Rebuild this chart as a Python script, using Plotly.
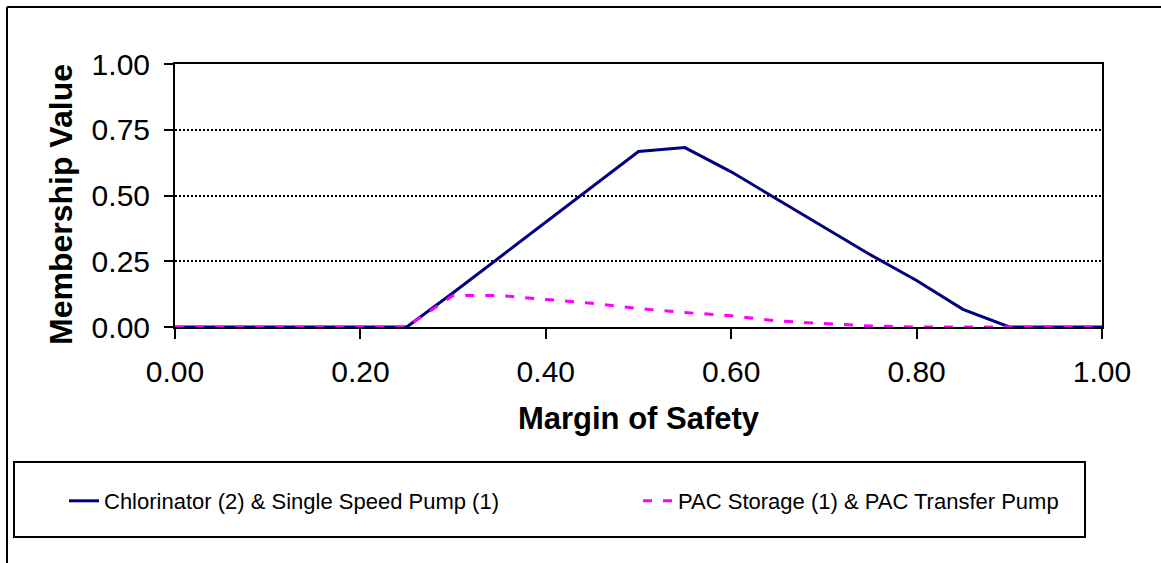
import plotly.graph_objects as go

# ---- data ----
margin_of_safety = [0.00, 0.05, 0.10, 0.15, 0.20, 0.25, 0.30, 0.35, 0.40, 0.45, 0.50,
                    0.55, 0.60, 0.65, 0.70, 0.75, 0.80, 0.85, 0.90, 0.95, 1.00]
chlorinator = [0, 0, 0, 0, 0, 0, 0.13, 0.265, 0.40, 0.535, 0.667,
               0.682, 0.59, 0.485, 0.38, 0.275, 0.177, 0.067, 0, 0, 0]
pac_storage = [0, 0, 0, 0, 0, 0, 0.12, 0.12, 0.105, 0.09, 0.07,
               0.055, 0.043, 0.023, 0.013, 0.004, 0, 0, 0, 0, 0]
series_names = ["Chlorinator (2) & Single Speed Pump (1)",
                "PAC Storage (1) & PAC Transfer Pump"]
x_ticks = [0.0, 0.2, 0.4, 0.6, 0.8, 1.0]
y_ticks = [0.0, 0.25, 0.5, 0.75, 1.0]

# ---- layout geometry (pixels) ----
W, H = 1161, 563
L, R, T, B = 175, 1102, 64, 327


def px2x(px):
    return (px - L) / (R - L)


def py2y(py):
    return (B - py) / (B - T)


FONT = "Arial, Liberation Sans, sans-serif"

fig = go.Figure()
fig.add_trace(go.Scatter(
    x=margin_of_safety, y=chlorinator, mode="lines", name=series_names[0],
    line=dict(color="#000080", width=3), legend="legend"))
fig.add_trace(go.Scatter(
    x=margin_of_safety, y=pac_storage, mode="lines", name=series_names[1],
    line=dict(color="#FF00FF", width=3, dash="9px,11px"), legend="legend2"))

shapes = [
    # outer chart frame (only top and left edges visible in the crop)
    dict(type="line", xref="paper", yref="paper", x0=px2x(7), x1=px2x(W + 20),
         y0=py2y(7), y1=py2y(7), line=dict(color="black", width=2)),
    dict(type="line", xref="paper", yref="paper", x0=px2x(7), x1=px2x(7),
         y0=py2y(7), y1=py2y(H + 20), line=dict(color="black", width=2)),
    # legend box
    dict(type="rect", xref="paper", yref="paper", x0=px2x(14), x1=px2x(1085),
         y0=py2y(537), y1=py2y(462), line=dict(color="black", width=2)),
]

fig.update_layout(
    width=W, height=H,
    margin=dict(l=L, r=W - R, t=T, b=H - B, pad=0),
    paper_bgcolor="white", plot_bgcolor="white",
    font=dict(family=FONT, color="black"),
    shapes=shapes,
    showlegend=True,
    legend=dict(x=px2x(64), y=py2y(501), xanchor="left", yanchor="middle",
                orientation="h", font=dict(size=22, family=FONT),
                bgcolor="rgba(0,0,0,0)", borderwidth=0),
    legend2=dict(x=px2x(638), y=py2y(501), xanchor="left", yanchor="middle",
                 orientation="h", font=dict(size=22, family=FONT),
                 bgcolor="rgba(0,0,0,0)", borderwidth=0),
    annotations=[dict(
        text="<b>Membership Value</b>", textangle=-90, xref="paper", yref="paper",
        x=px2x(61), y=py2y(205), xanchor="center", yanchor="middle",
        showarrow=False, font=dict(size=32, family=FONT, color="black"))],
)

fig.update_xaxes(
    range=[0, 1], tickvals=x_ticks, tickformat=".2f",
    showline=True, linecolor="black", linewidth=2, mirror=True,
    ticks="outside", ticklen=10, tickwidth=2, tickcolor="black",
    ticklabelstandoff=7,
    tickfont=dict(size=30, family=FONT, color="black"),
    showgrid=False, zeroline=False,
    title=dict(text="<b>Margin of Safety</b>", font=dict(size=31, family=FONT, color="black"),
               standoff=20),
)
fig.update_yaxes(
    range=[0, 1], tickvals=y_ticks, tickformat=".2f",
    showline=True, linecolor="black", linewidth=2, mirror=True,
    ticks="outside", ticklen=9, tickwidth=2, tickcolor="black",
    ticklabelstandoff=8,
    tickfont=dict(size=30, family=FONT, color="black"),
    showgrid=True, gridcolor="black", gridwidth=1.5, griddash="2px,2px",
    zeroline=False,
)

fig.write_html("out.html")
